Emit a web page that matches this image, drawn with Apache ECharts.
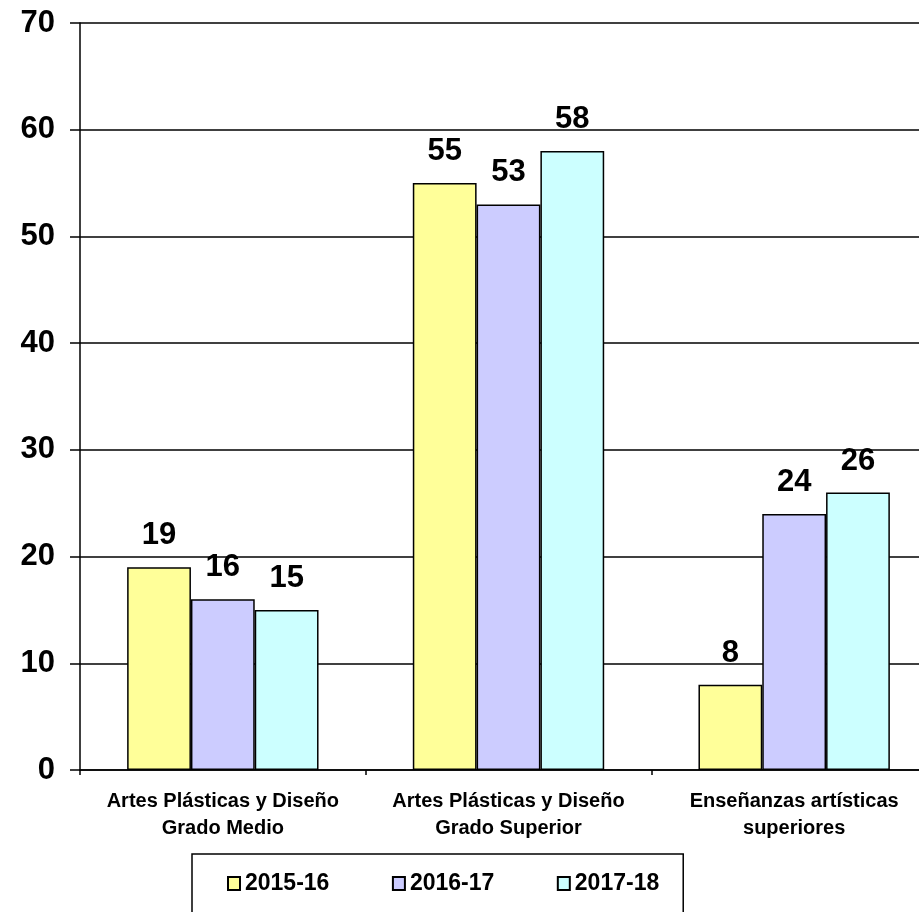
<!DOCTYPE html>
<html>
<head>
<meta charset="utf-8">
<script src="https://cdn.jsdelivr.net/npm/echarts@6/dist/echarts.min.js"></script>
<style>html,body{margin:0;padding:0;background:#fff;overflow:hidden;width:919px;height:912px;}#c{width:937px;height:912px;}</style>
</head>
<body>
<div id="c"></div>
<script>
const categories = ['Artes Plásticas y Diseño\nGrado Medio', 'Artes Plásticas y Diseño\nGrado Superior', 'Enseñanzas artísticas\nsuperiores'];
const seriesNames = ['2015-16', '2016-17', '2017-18'];
const values2015 = [19, 55, 8];
const values2016 = [16, 53, 24];
const values2017 = [15, 58, 26];
const yTicks = [0, 10, 20, 30, 40, 50, 60, 70];
const colors = ['#FFFF99', '#CCCCFF', '#CCFFFF'];

const chart = echarts.init(document.getElementById('c'), null, {renderer: 'canvas'});
const FONT = '"Liberation Sans", Arial, sans-serif';
const seriesData = [values2015, values2016, values2017];
chart.setOption({
  animation: false,
  backgroundColor: '#ffffff',
  grid: {left: 80, top: 23, right: 0, bottom: 142, containLabel: false},
  legend: {
    left: 192, top: 854,
    padding: [18, 24, 30, 35],
    borderColor: '#000', borderWidth: 1.5,
    itemWidth: 12, itemHeight: 13, itemGap: 62.5,
    icon: 'rect',
    textStyle: {fontFamily: FONT, fontWeight: 'bold', fontSize: 23, color: '#000'},
    data: seriesNames
  },
  xAxis: {
    type: 'category',
    data: categories,
    axisLine: {lineStyle: {color: '#000', width: 1.5}},
    axisTick: {show: true, length: 5, lineStyle: {color: '#000', width: 1.5}},
    axisLabel: {fontFamily: FONT, fontWeight: 'bold', fontSize: 20, color: '#000', lineHeight: 27, margin: 18, interval: 0}
  },
  yAxis: {
    type: 'value', min: 0, max: yTicks[yTicks.length - 1], interval: 10,
    axisLine: {show: true, lineStyle: {color: '#000', width: 1.5}},
    axisTick: {show: true, length: 10, lineStyle: {color: '#000', width: 1.5}},
    axisLabel: {fontFamily: FONT, fontWeight: 'bold', fontSize: 31, color: '#000', margin: 25},
    splitLine: {show: true, lineStyle: {color: '#000', width: 1.5}}
  },
  series: seriesNames.map((n, i) => ({
    name: n, type: 'bar', data: seriesData[i],
    barGap: '0%', barCategoryGap: '33%',
    itemStyle: {color: colors[i], borderColor: '#000', borderWidth: 1.5},
    label: {show: true, position: 'top', distance: 16, fontFamily: FONT, fontWeight: 'bold', fontSize: 31, color: '#000'}
  }))
});
</script>
</body>
</html>
